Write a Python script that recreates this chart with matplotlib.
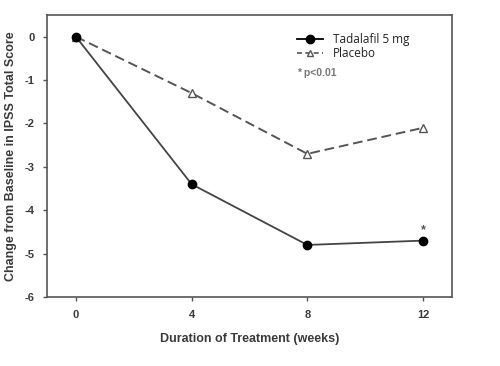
import matplotlib
matplotlib.use("Agg")
import matplotlib.pyplot as plt
from matplotlib.lines import Line2D

weeks = [0, 4, 8, 12]
tadalafil = [0, -3.4, -4.8, -4.7]
placebo = [0, -1.3, -2.7, -2.1]
x_ticks = [0, 4, 8, 12]
y_ticks = [0, -1, -2, -3, -4, -5, -6]
sig_week = 12
sig_y = -4.45

dark = "#3a3a3a"
gray = "#555555"

fig = plt.figure(figsize=(5, 3.66), dpi=100)
ax = fig.add_axes([0.094, 0.1885, 0.81, 0.7705])

ax.plot(weeks, placebo, color="#555555", linestyle=(0, (5, 2.5)), linewidth=1.4,
        marker="^", markersize=6, markerfacecolor="white", markeredgecolor="#555555",
        markeredgewidth=1.0, zorder=3)
ax.plot(weeks, tadalafil, color="#444444", linestyle="-", linewidth=1.3,
        marker="o", markersize=6, markerfacecolor="black", markeredgecolor="black",
        zorder=4)

ax.text(sig_week, sig_y, "*", ha="center", va="center", fontsize=9, color=gray,
        family="Liberation Sans", fontweight="bold")

ax.set_xlim(-1, 13)
ax.set_ylim(-6, 0.5)
ax.set_xticks(x_ticks)
ax.set_yticks(y_ticks)
ax.set_xticklabels([str(v) for v in x_ticks])
ax.set_yticklabels([str(v) for v in y_ticks])
for lab in ax.get_xticklabels() + ax.get_yticklabels():
    lab.set_family("Liberation Sans")
    lab.set_fontweight("bold")
    lab.set_fontsize(8)
    lab.set_color(dark)
ax.tick_params(axis="both", direction="out", length=3, width=1, color=gray)
ax.tick_params(axis="x", pad=6)
ax.tick_params(axis="y", pad=6)
for s in ax.spines.values():
    s.set_color("#555555")
    s.set_linewidth(1.2)

ax.set_xlabel("Duration of Treatment (weeks)", family="Liberation Sans",
              fontweight="bold", fontsize=9, color=dark, labelpad=10)
ax.set_ylabel("Change from Baseline in IPSS Total Score", family="Liberation Sans",
              fontweight="bold", fontsize=9, color=dark)
ax.yaxis.set_label_coords(-30 / 405, 0.5)

handles = [
    Line2D([0], [0], color="black", linestyle="-", linewidth=1.3, marker="o",
           markersize=6, markerfacecolor="black"),
    Line2D([0], [0], color="#555555", linestyle=(0, (3, 2)), linewidth=1.2, marker="^",
           markersize=5, markerfacecolor="white", markeredgecolor="#555555"),
]
leg = ax.legend(handles, ["Tadalafil 5 mg", "Placebo"], loc="upper left",
                bbox_to_anchor=(0.592, 0.975), frameon=False, handlelength=2.2,
                handletextpad=0.8, labelspacing=0.15,
                prop={"family": "Open Sans", "size": 8.5})
for t in leg.get_texts():
    t.set_color("#222222")

fig.text(0.594, 0.80, "* p<0.01", family="Liberation Sans", fontsize=7.5,
         fontweight="bold", color="#777777", va="center")

fig.savefig("out.png", dpi=100)
